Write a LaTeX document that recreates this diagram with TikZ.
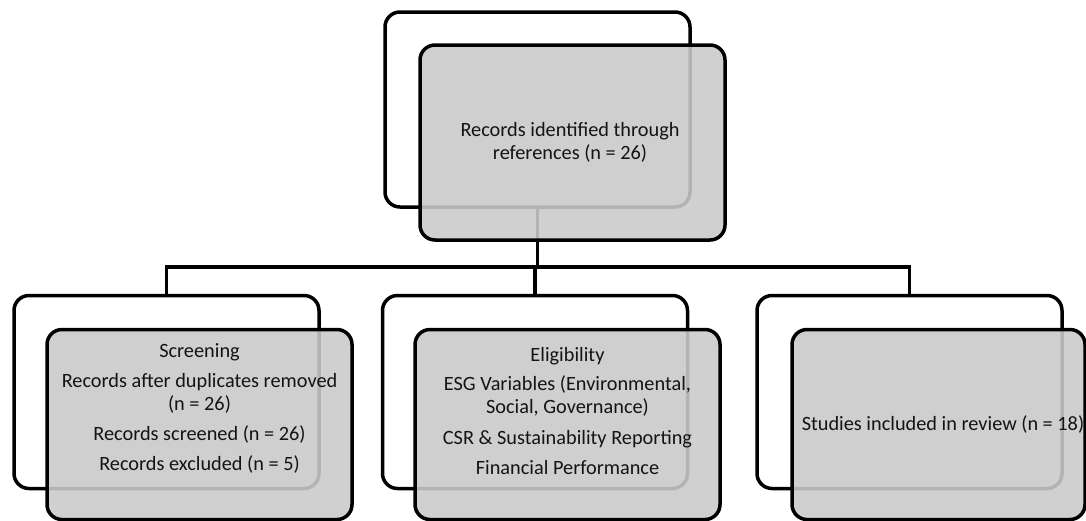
\documentclass[tikz,border=0pt]{standalone}
\usepackage{fontspec}
\setmainfont{Carlito}
\definecolor{boxgray}{RGB}{202,202,202}
\definecolor{txt}{RGB}{20,20,20}
\tikzset{
  frontbox/.style={draw=black, line width=3.5pt, rounded corners=15pt, fill=white, minimum width=305pt, minimum height=193pt, inner sep=0pt},
  backbox/.style={draw=black, line width=3.5pt, rounded corners=15pt, fill=boxgray, fill opacity=0.89, draw opacity=1, minimum width=305pt, minimum height=190pt, inner sep=0pt},
  link/.style={draw=black, line width=3.5pt},
  label/.style={text=txt, align=center, inner sep=0pt, font=\fontsize{20.3pt}{22.5pt}\selectfont}
}
\begin{document}
\begin{tikzpicture}[x=1pt,y=-1pt]
\useasboundingbox (0,0) rectangle (1086,520);
% white back boxes
\node[frontbox, minimum height=195pt] (tw) at (537.5,109.5) {};
\node[frontbox] (lw) at (166.5,392) {};
\node[frontbox] (mw) at (535,392) {};
\node[frontbox] (rw) at (909.5,392) {};
% connectors
\coordinate (j) at (537.5,267);
\draw[link] (tw.south) -- (j);
\draw[link] (lw.north) -- (lw.north |- j) -- (rw.north |- j) -- (rw.north);
\draw[link] (mw.north) -- (mw.north |- j);
% gray front boxes
\node[backbox, minimum height=195pt] (tg) at (572.5,142.5) {};
\node[backbox] (lg) at (199.5,424.5) {};
\node[backbox] (mg) at (567.5,424.5) {};
\node[backbox, minimum width=293pt] (rg) at (938.5,424.5) {};
% texts
\node[label] (tt) at (570,142.5) {Records identified through\\references (n = 26)};
\node[label] (lt) at (199.5,408) {Screening\\[8pt]Records after duplicates removed\\(n = 26)\\[8pt]Records screened (n = 26)\\[7pt]Records excluded (n = 5)};
\node[label] (mt) at (567.5,411) {Eligibility\\[7pt]ESG Variables (Environmental,\\Social, Governance)\\[9pt]CSR \& Sustainability Reporting\\[7pt]Financial Performance};
\node[label] (rt) at (943,424.5) {Studies included in review (n = 18)};
\end{tikzpicture}
\end{document}
